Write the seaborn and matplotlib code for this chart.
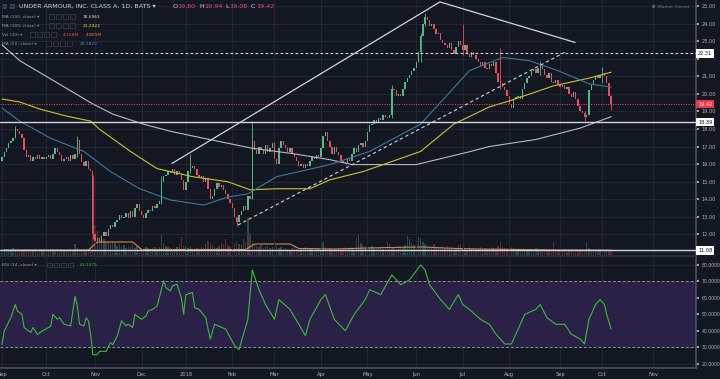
import numpy as np
import pandas as pd
import matplotlib
matplotlib.use("Agg")
import matplotlib.pyplot as plt
import seaborn as sns
from matplotlib.patches import Rectangle
from matplotlib.transforms import blended_transform_factory

# trading calendar (NYSE holidays in the window)
holidays = ["2017-09-04", "2017-11-23", "2017-12-25", "2018-01-01", "2018-01-15",
            "2018-02-19", "2018-03-30", "2018-05-28", "2018-07-04", "2018-09-03",
            "2018-11-22"]
start_date = "2017-09-01"
axis_end_date = "2018-11-30"

# daily closes, one line per month
closes = [
    16.4, 16.7, 16.9, 17.2, 17.3, 17.5, 18.0, 17.9, 17.7, 17.5, 16.8, 16.4, 16.5, 16.2, 16.4, 16.3, 16.5, 16.3, 16.4, 16.3,
    16.4, 16.5, 16.3, 16.6, 16.9, 16.7, 16.5, 16.2, 16.3, 16.4, 16.2, 16.5, 16.3, 16.6, 17.4, 16.6, 16.1, 15.9, 16.2, 15.7, 15.6, 12.0,
    11.6, 11.8, 11.5, 11.9, 12.1, 11.9, 12.3, 12.5, 12.4, 12.7, 12.8, 13.1, 12.9, 13.0, 13.2, 12.9, 13.3, 13.0, 13.5, 13.7, 13.3,
    13.1, 12.9, 13.2, 13.4, 13.3, 13.6, 13.5, 13.7, 13.9, 15.0, 15.3, 15.4, 15.6, 15.5, 15.7, 15.4, 15.6, 15.5, 15.1, 14.5,
    15.0, 15.6, 15.8, 15.9, 15.7, 15.4, 15.2, 15.3, 15.0, 15.2, 14.6, 14.0, 14.2, 14.6, 14.9, 14.7, 14.8, 14.5, 14.3, 14.0, 13.8,
    13.5, 13.0, 12.7, 13.1, 13.3, 13.6, 13.4, 14.2, 14.0, 17.3, 16.8, 16.6, 17.0, 16.8, 16.6, 17.1, 16.7, 16.9, 17.2,
    16.3, 16.0, 16.9, 17.3, 17.1, 16.9, 16.7, 16.9, 16.6, 16.4, 16.2, 15.9, 16.0, 15.8, 16.0, 15.9, 16.2, 16.4, 16.3, 16.5, 16.4,
    16.9, 17.6, 17.8, 17.3, 17.0, 16.6, 17.0, 16.7, 16.5, 16.2, 16.1, 16.0, 16.3, 16.2, 16.6, 16.9, 16.7, 17.1, 17.2, 17.0, 17.3,
    17.8, 18.2, 18.3, 18.5, 18.4, 18.6, 18.5, 18.8, 18.7, 18.6, 18.8, 20.3, 20.2, 19.9, 20.0, 19.9, 20.3, 20.7, 20.9, 21.1, 21.3, 21.5,
    21.8, 22.4, 23.3, 24.0, 24.4, 24.2, 23.9, 24.0, 23.7, 23.4, 23.5, 23.1, 22.9, 22.8, 22.6, 22.9, 22.5, 22.3, 22.7, 23.0, 22.8,
    22.5, 22.8, 22.3, 22.1, 22.4, 22.2, 22.0, 21.8, 21.6, 21.8, 21.5, 21.4, 21.7, 21.6, 21.8, 21.2, 20.7, 20.6, 20.4, 20.2, 19.9,
    19.4, 19.2, 19.7, 19.8, 19.9, 19.7, 20.3, 20.6, 20.9, 21.0, 21.3, 21.4, 21.2, 21.5, 21.6, 21.4, 21.1, 20.9, 21.2, 20.7, 20.6, 20.8, 20.5,
    20.4, 20.5, 20.3, 20.4, 20.0, 19.8, 20.1, 19.7, 19.3, 19.0, 18.9, 18.7, 18.8, 20.2, 20.5, 20.8, 21.0, 20.9, 21.1,
    21.2, 21.0, 20.6, 19.9, 19.42,
]
first_open = 16.2

# notable wicks
wick_idx = [6, 34, 41, 72, 85, 106, 113, 176, 189, 191, 208, 225, 243, 263, 271, 275]
wick_hi = [18.15, 17.6, 15.4, 15.3, 16.6, 13.0, 18.45, 20.5, 23.5, 24.6, 24.0, 22.6, 21.9, 19.0, 21.55, 19.94]
wick_lo = [17.5, 16.4, 11.7, 13.7, 15.5, 12.45, 14.0, 18.6, 21.8, 23.9, 22.2, 20.3, 21.1, 18.45, 20.6, 19.08]

# daily volume, millions
volume_m = [
    5, 4, 6, 4, 5, 7, 6, 5, 4, 5, 6, 5, 4, 4, 5, 4, 3, 4, 5, 4,
    4, 5, 4, 6, 5, 4, 4, 5, 4, 5, 6, 4, 5, 11, 7, 5, 4, 6, 5, 6, 8, 45,
    30, 24, 18, 20, 16, 14, 13, 11, 14, 12, 9, 11, 8, 10, 7, 9, 8, 11, 7, 9, 8,
    7, 6, 8, 7, 6, 7, 8, 6, 8, 20, 12, 9, 8, 7, 6, 5, 8, 11, 18, 9,
    8, 7, 9, 6, 5, 7, 6, 8, 7, 11, 14, 12, 10, 8, 7, 9, 12, 11, 16, 10, 8,
    9, 12, 14, 11, 10, 16, 13, 38, 22, 14, 11, 9, 8, 10, 7, 8, 9, 7, 8,
    12, 9, 7, 8, 6, 7, 6, 5, 7, 8, 6, 5, 7, 6, 8, 5, 6, 7, 5, 6, 7,
    5, 13, 8, 6, 7, 5, 6, 4, 7, 5, 6, 8, 5, 6, 7, 5, 17, 21, 12, 9, 8,
    7, 8, 9, 6, 7, 8, 7, 6, 5, 13, 11, 8, 7, 6, 9, 8, 7, 10, 19, 16, 12, 10,
    10, 18, 17, 13, 11, 9, 8, 7, 11, 8, 7, 6, 8, 7, 9, 6, 8, 5, 7, 10, 11,
    7, 6, 5, 8, 6, 7, 5, 6, 8, 5, 7, 6, 5, 8, 7, 6, 9, 13, 8, 7, 6,
    7, 8, 5, 6, 5, 4, 6, 5, 4, 6, 5, 4, 7, 5, 4, 6, 5, 4, 5, 4, 13, 6, 5,
    4, 5, 4, 3, 5, 4, 3, 4, 5, 6, 4, 5, 13, 7, 5, 4, 5, 4, 6,
    4, 5, 4, 5, 4.2,
]
volma_idx = [0, 39, 43, 59, 63, 110, 114, 130, 134, 150, 165, 175, 190, 205, 215, 235, 250, 265, 275]
volma_val = [5.0, 5.0, 13, 13, 5.5, 5.5, 11, 11, 6.5, 6.0, 7.0, 7.5, 8.0, 6.5, 6.0, 5.5, 5.0, 5.0, 4.8]

# moving averages, sampled from the chart
ma200_idx = [0, 8, 41, 50, 64, 76, 91, 113, 131, 148, 158, 187, 211, 220, 241, 261, 275]
ma200_val = [22.8, 21.9, 19.43, 18.85, 18.27, 17.87, 17.47, 16.9, 16.6, 16.25, 15.97, 15.97, 16.7, 17.0, 17.4, 18.05, 18.70]
ma100_idx = [0, 8, 17, 29, 40, 44, 58, 70, 86, 102, 112, 124, 139, 148, 163, 189, 204, 220, 229, 249, 265, 275]
ma100_val = [19.71, 19.54, 19.14, 18.74, 18.45, 17.99, 16.72, 15.74, 15.28, 14.99, 14.53, 14.59, 14.59, 15.1,
             15.57, 16.72, 18.28, 19.26, 19.6, 20.46, 20.9, 21.24]
ma50_idx = [0, 8, 22, 37, 49, 62, 76, 91, 102, 111, 115, 124, 138, 148, 166, 189, 204, 211, 226, 238, 251, 265, 275]
ma50_val = [19.2, 18.45, 17.47, 16.72, 15.57, 14.6, 13.95, 13.66, 14.12, 14.3, 14.6, 15.28, 15.68, 15.97, 16.72,
            18.28, 20.35, 21.33, 22.08, 21.9, 21.33, 20.58, 20.39]

# RSI (14) sampled from the lower pane
rsi_idx = [0, 1, 4, 6, 7, 9, 10, 13, 14, 16, 18, 22, 23, 25, 26, 28, 31, 33, 34, 35, 37, 38, 39, 40, 41, 43, 44,
           47, 49, 50, 52, 54, 56, 57, 59, 60, 61, 63, 65, 66, 68, 69, 70, 73, 74, 76, 77, 79, 81, 82, 83, 86, 87, 89,
           92, 94, 96, 101, 105, 107, 111, 113, 116, 119, 123, 125, 130, 134, 137, 139, 144, 146, 150, 155, 159, 164,
           166, 171, 176, 180, 184, 189, 191, 193, 198, 202, 206, 208, 211, 216, 220, 223, 227, 230, 233, 236, 241,
           243, 246, 250, 254, 257, 261, 263, 265, 268, 270, 272, 273, 275]
rsi_val = [31.6, 39.8, 48, 56, 52, 50, 42, 39, 42, 37.8, 39.8, 42.8, 50, 47, 48, 44, 43, 61, 55, 44, 43, 48, 46, 38,
           25.5, 25.5, 27.5, 27.5, 32.8, 31.6, 36.7, 46, 43, 44, 42, 50, 49, 47, 49, 52, 53, 54, 55, 70.4, 66.3, 64.2,
           67.3, 68.3, 60, 50, 62, 63.3, 54, 53, 48, 35, 44, 41, 31, 28.6, 47, 77, 65, 56, 47, 59, 53, 44, 37, 47, 59,
           62, 47, 40, 50, 59, 65, 62, 74, 68, 71, 80, 77, 68, 59, 53, 62, 56, 53, 47, 44, 38, 32, 32, 41, 50, 53, 56,
           48, 44, 44, 38, 35, 32, 47, 56, 59, 56, 50, 41.1]

# drawn levels and trend lines
levels_solid = [18.39, 11.08]
level_dashed = 22.31
last_price = 19.42
wedge_idx = [76.7, 197.7, 258.7]
wedge_val = [16.03, 25.25, 22.94]
dash_idx = [106.5, 254.0]
dash_val = [12.52, 22.37]

BG = "#131722"
GRID = "#242834"
TXT = "#b2b5be"
UP = "#53b987"
DOWN = "#eb4d5c"
WHITE = "#d1d4dc"

sns.set_theme(style="dark", rc={
    "axes.facecolor": BG, "figure.facecolor": BG, "savefig.facecolor": BG,
    "axes.edgecolor": "#4a4e5a", "grid.color": GRID, "text.color": TXT,
    "xtick.color": TXT, "ytick.color": TXT})
plt.rcParams["font.family"] = ["DejaVu Sans"]

W, H = 720, 379
fig = plt.figure(figsize=(W / 100, H / 100), dpi=100)
ax = fig.add_axes([0, (H - 255) / H, 696 / W, 255 / H])
axr = fig.add_axes([0, (H - 368) / H, 696 / W, (368 - 257) / H], sharex=ax)
axv = ax.twinx()
ax.set_zorder(axv.get_zorder() + 1)
ax.patch.set_visible(False)

cal = pd.bdate_range(start_date, axis_end_date, freq="C", holidays=holidays)
n = len(closes)
idx = np.arange(n)
pos = pd.Series(np.arange(len(cal)), index=cal)
firsts = pos.groupby([cal.year, cal.month]).first()
month_pos = firsts.values
month_lab = ["2018" if m == 1 else pd.Timestamp(year=y, month=m, day=1).strftime("%b")
             for (y, m) in firsts.index]

# candles
c = np.array(closes)
o = np.array([first_open] + closes[:-1])
col = np.where(c >= o, UP, DOWN)
wcol = [UP if c[i] >= o[i] else DOWN for i in wick_idx]
ax.vlines(wick_idx, wick_lo, wick_hi, colors=wcol, lw=0.6, zorder=3)
ax.bar(idx, np.maximum(np.abs(c - o), 0.05), bottom=np.minimum(o, c), width=0.62,
       color=col, linewidth=0, zorder=4)

# volume
axv.bar(idx, volume_m, width=0.62, color=col, alpha=0.35, linewidth=0)
sns.lineplot(x=volma_idx, y=volma_val, ax=axv, color="#c98a4b", lw=0.8)
axv.set_ylim(0, 255)
axv.axis("off")

# moving averages
sns.lineplot(x=ma200_idx, y=ma200_val, ax=ax, color="#b8bbc4", lw=0.8, zorder=5)
sns.lineplot(x=ma100_idx, y=ma100_val, ax=ax, color="#c9c52c", lw=0.8, zorder=5)
sns.lineplot(x=ma50_idx, y=ma50_val, ax=ax, color="#3f7896", lw=0.8, zorder=5)

# drawings
for lv in levels_solid:
    ax.axhline(lv, color=WHITE, lw=1.0, zorder=6)
ax.axhline(level_dashed, color=WHITE, lw=0.8, ls=(0, (2.5, 2)), zorder=6)
ax.axhline(last_price, color=DOWN, lw=0.7, ls=(0, (1, 1.5)), zorder=6)
ax.plot(wedge_idx, wedge_val, color=WHITE, lw=0.9, zorder=6)
ax.plot(dash_idx, dash_val, color=WHITE, lw=0.8, ls=(0, (3, 2.5)), zorder=6)

xmax = (696 - 2) / 2.215
ax.set_xlim(-0.9, xmax)
ax.set_ylim(10.81, 25.36)
price_ticks = list(range(11, 26))
ax.set_yticks(price_ticks)
# 11.00 and 22.00 sit under the level boxes on the price scale
ax.set_yticklabels(["" if v in (11, 22) else f"{v:.2f}" for v in price_ticks])
ax.yaxis.tick_right()
ax.tick_params(axis="y", labelsize=3.6, length=2, pad=2, colors=TXT)
ax.tick_params(axis="x", labelbottom=False, length=0)
ax.set_xticks(month_pos)
ax.grid(True, lw=0.6)
for s in ["top", "left", "bottom"]:
    ax.spines[s].set_visible(False)
ax.spines["right"].set_color("#4a4e5a")
ax.set_ylabel("")

# price-scale labels
tr = blended_transform_factory(ax.transAxes, ax.transData)
for val, fc, tc in [(level_dashed, "white", BG), (last_price, "#f23645", "white"),
                    (levels_solid[0], "white", BG), (levels_solid[1], "white", BG)]:
    ax.text(1.003, val, f"{val:.2f}", transform=tr, fontsize=3.6, color=tc, va="center", ha="left",
            bbox=dict(boxstyle="square,pad=0.35", fc=fc, ec="none"), clip_on=False, zorder=10)

# RSI pane
axr.axhspan(30, 70, color="#2b2148", lw=0, zorder=0)
axr.axhline(70, color="#8a8d96", lw=0.7, ls=(0, (3, 2)))
axr.axhline(30, color="#8a8d96", lw=0.7, ls=(0, (3, 2)))
sns.lineplot(x=rsi_idx, y=rsi_val, ax=axr, color="#3db83d", lw=0.8, zorder=5)
axr.set_ylim(17.4, 84.86)
axr.set_yticks(range(20, 90, 10))
axr.set_yticklabels([f"{v:.4f}" for v in range(20, 90, 10)])
axr.yaxis.tick_right()
axr.tick_params(axis="y", labelsize=3.3, length=2, pad=2, colors=TXT)
axr.set_xticks(month_pos)
axr.set_xticklabels(month_lab)
axr.tick_params(axis="x", labelsize=3.7, length=0, pad=3, colors=TXT)
axr.grid(True, lw=0.6)
for s in ["top", "left"]:
    axr.spines[s].set_visible(False)
axr.spines["right"].set_color("#4a4e5a")
axr.spines["bottom"].set_color("#4a4e5a")
axr.set_xlim(-0.9, xmax)
axr.set_ylabel("")
fig.add_artist(plt.Line2D([0, 696 / W], [1 - 256 / H, 1 - 256 / H], color="#2e323e", lw=1.2))


def t(x, y, s, color=TXT, size=3.2, **kw):
    fig.text(x / W, 1 - y / H, s, color=color, fontsize=size, va="center", ha="left", **kw)


def icons(x0, y):
    for k in range(4):
        fig.add_artist(Rectangle((((x0 + k * 7) / W), 1 - (y + 2.2) / H), 4.5 / W, 4.5 / H,
                                 fill=False, ec="#3d414d", lw=0.5))


# header and legends
fig.add_artist(Rectangle((2 / W, 1 - 9 / H), 5 / W, 5 / H, fc="#3d414d", ec="none"))
fig.add_artist(Rectangle((10 / W, 1 - 9 / H), 5 / W, 5 / H, fc="#3d414d", ec="none"))
t(19, 6.7, "UNDER ARMOUR, INC. CLASS A, 1D, BATS ▾", color=WHITE, size=4.6)
ohlc = [("O", 172.5), ("19.80", 177.5), ("H", 199), ("19.94", 204), ("L", 225), ("19.08", 229),
        ("C", 251), ("19.42", 256)]
for s, x in ohlc:
    t(x, 6.7, s, color=WHITE if len(s) == 1 else DOWN, size=4.6)
t(1.5, 16.7, "MA (200, close) ▾", color="#9598a1")
icons(49, 16.7)
t(82.5, 16.7, "18.6961", color=WHITE)
t(1.5, 25.7, "MA (100, close) ▾", color="#9598a1")
icons(49, 25.7)
t(82.5, 25.7, "21.2422", color="#e3e02a")
t(1.5, 34.7, "Vol (20) ▾", color="#9598a1")
icons(30, 34.7)
t(63, 34.7, "4.158M", color=DOWN)
t(86, 34.7, "4.801M", color="#e08a3c")
t(1.5, 43.7, "MA (50, close) ▾", color="#9598a1")
icons(46, 43.7)
t(79.5, 43.7, "20.3870", color="#4a8db5")
t(1.5, 265, "RSI (14, close) ▾", color="#9598a1")
icons(47, 265)
t(80, 265, "41.1375", color="#3db83d")
t(652, 6.7, "●", color="#6a6d78", size=2.6)
t(658, 6.7, "Market Closed", color="#787b86", size=3.2)

fig.savefig("out.png", dpi=100)
